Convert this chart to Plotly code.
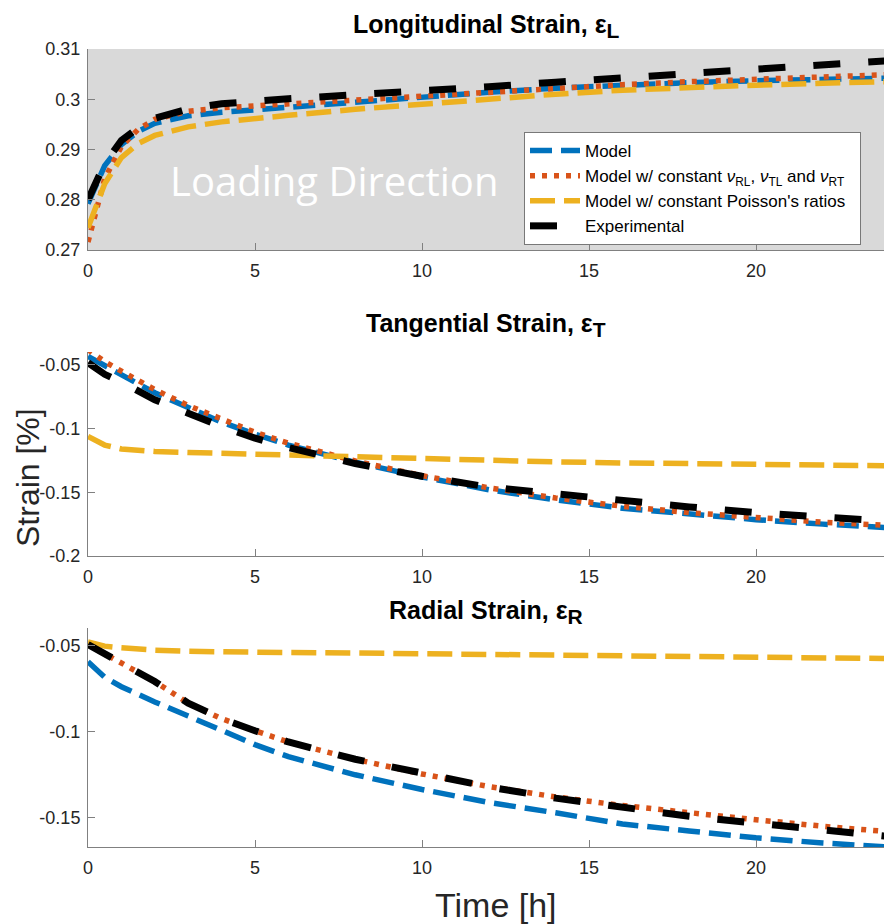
import plotly.graph_objects as go

# ---------------- data ----------------
t = [0, 0.5, 1, 1.5, 2, 3, 4, 5, 6, 8, 10, 12, 14, 16, 18, 20, 22, 24]

# Longitudinal strain
long_model = [0.2792, 0.2868, 0.2910, 0.2936, 0.2952, 0.2967, 0.2974, 0.2979, 0.2985, 0.2995,
              0.3004, 0.3014, 0.3022, 0.3028, 0.3033, 0.3037, 0.3040, 0.3042]
long_const_nu = [0.2716, 0.2842, 0.2906, 0.2940, 0.2960, 0.2976, 0.2983, 0.2987, 0.2991, 0.2999,
                 0.3006, 0.3014, 0.3022, 0.3029, 0.3035, 0.3040, 0.3045, 0.3049]
long_const_poisson = [0.2744, 0.2832, 0.2884, 0.2912, 0.2928, 0.2945, 0.2955, 0.2962, 0.2968, 0.2980,
                      0.2990, 0.3001, 0.3010, 0.3018, 0.3024, 0.3028, 0.3032, 0.3035]
long_exp = [0.2800, 0.2872, 0.2918, 0.2943, 0.2962, 0.2981, 0.2991, 0.2997, 0.3001, 0.3009,
            0.3016, 0.3025, 0.3034, 0.3043, 0.3052, 0.3062, 0.3069, 0.3077]

# Tangential strain
tang_model = [-0.0435, -0.0510, -0.0580, -0.0650, -0.0720, -0.0840, -0.0950, -0.1045, -0.1130, -0.1265,
              -0.1380, -0.1480, -0.1560, -0.1625, -0.1675, -0.1715, -0.1750, -0.1778]
tang_const_nu = [-0.0382, -0.0475, -0.0550, -0.0625, -0.0695, -0.0820, -0.0930, -0.1030, -0.1115, -0.1255,
                 -0.1370, -0.1465, -0.1545, -0.1610, -0.1660, -0.1700, -0.1735, -0.1760]
tang_const_poisson = [-0.1063, -0.1130, -0.1160, -0.1172, -0.1180, -0.1188, -0.1195, -0.1205, -0.1215, -0.1230,
                      -0.1242, -0.1250, -0.1262, -0.1270, -0.1275, -0.1280, -0.1286, -0.1292]
tang_exp = [-0.0484, -0.0575, -0.0635, -0.0705, -0.0775, -0.0880, -0.0985, -0.1075, -0.1150, -0.1275,
            -0.1375, -0.1460, -0.1515, -0.1565, -0.1615, -0.1660, -0.1695, -0.1728]

# Radial strain
rad_model = [-0.0596, -0.0685, -0.0740, -0.0785, -0.0828, -0.0910, -0.0990, -0.1075, -0.1145, -0.1250,
             -0.1335, -0.1410, -0.1470, -0.1535, -0.1575, -0.1615, -0.1645, -0.1668]
rad_const_nu = [-0.0496, -0.0550, -0.0605, -0.0660, -0.0710, -0.0835, -0.0925, -0.0995, -0.1060, -0.1160,
                -0.1245, -0.1318, -0.1378, -0.1428, -0.1472, -0.1510, -0.1548, -0.1580]
rad_const_poisson = [-0.0481, -0.0505, -0.0515, -0.0522, -0.0528, -0.0535, -0.0539, -0.0540, -0.0542, -0.0545,
                     -0.0548, -0.0551, -0.0555, -0.0559, -0.0563, -0.0567, -0.0572, -0.0577]
rad_exp = [-0.0496, -0.0550, -0.0605, -0.0660, -0.0710, -0.0835, -0.0925, -0.0995, -0.1060, -0.1160,
           -0.1245, -0.1320, -0.1385, -0.1440, -0.1490, -0.1530, -0.1570, -0.1608]

series_names = ["Model",
                "Model w/ constant <i>ν</i><sub>RL</sub>, <i>ν</i><sub>TL</sub> and <i>ν</i><sub>RT</sub>",
                "Model w/ constant Poisson's ratios\u00a0\u00a0",
                "Experimental"]
SUB = '<sub><span style="font-size:21px">{}</span></sub>'
panel_titles = ["<b>Longitudinal Strain, ε" + SUB.format("L") + "</b>",
                "<b>Tangential Strain, ε" + SUB.format("T") + "</b>",
                "<b>Radial Strain, ε" + SUB.format("R") + "</b>"]

x_ticks = [0, 5, 10, 15, 20]
x_ticktext = ["0", "5", "10", "15", "20"]
y1_ticks = [0.27, 0.28, 0.29, 0.30, 0.31]
y1_ticktext = ["0.27", "0.28", "0.29", "0.3", "0.31"]
y2_ticks = [-0.2, -0.15, -0.1, -0.05]
y2_ticktext = ["-0.2", "-0.15", "-0.1", "-0.05"]
y3_ticks = [-0.15, -0.1, -0.05]
y3_ticktext = ["-0.15", "-0.1", "-0.05"]

# ---------------- styling ----------------
colors = ["#0072BD", "#D95319", "#EDB120", "#000000"]
dashes = ["22px,9px", "5px,7px", "25px,9px", "27px,28px"]
widths = [5.5, 5.5, 5.5, 7]

W, H = 892, 924
OFF = 8  # the page places the figure 8 px from the top-left corner
def px_x(p): return (p - OFF) / W
def px_y(p): return 1 - (p - OFF) / H

FONT = "Arial, 'Liberation Sans', Helvetica, sans-serif"
AXCOL = "rgb(128,128,128)"
TXTCOL = "#262626"

fig = go.Figure()

panels = [
    ([long_model, long_const_nu, long_const_poisson, long_exp], "x", "y"),
    ([tang_model, tang_const_nu, tang_const_poisson, tang_exp], "x2", "y2"),
    ([rad_model, rad_const_nu, rad_const_poisson, rad_exp], "x3", "y3"),
]
for pi, (sers, xa, ya) in enumerate(panels):
    for si, ys in enumerate(sers):
        fig.add_trace(go.Scatter(
            x=t, y=ys, mode="lines", name=series_names[si],
            line=dict(color=colors[si], dash=dashes[si], width=widths[si]),
            xaxis=xa, yaxis=ya, showlegend=(pi == 0)))

# x axis: 0 at page px 88, 33.4 px per hour; domain runs to the figure's right edge
x_end = (W + OFF - 88) / 33.4
xdom = [px_x(88), 1.0]
common_x = dict(range=[0, x_end], tickvals=x_ticks, ticktext=x_ticktext, ticks="inside",
                ticklen=7, tickcolor=AXCOL, showline=True, linecolor=AXCOL, linewidth=1,
                showgrid=False, zeroline=False, domain=xdom, automargin=False,
                tickfont=dict(family=FONT, size=18, color=TXTCOL), ticklabelstandoff=4)
common_y = dict(ticks="inside", ticklen=7, tickcolor=AXCOL, showline=True, linecolor=AXCOL,
                linewidth=1, showgrid=False, zeroline=False, automargin=False,
                tickfont=dict(family=FONT, size=18, color=TXTCOL), ticklabelstandoff=3)

fig.update_layout(
    width=W, height=H,
    margin=dict(l=0, r=0, t=0, b=0, pad=0, autoexpand=False),
    paper_bgcolor="white", plot_bgcolor="rgba(0,0,0,0)",
    xaxis=dict(common_x, anchor="y"),
    xaxis2=dict(common_x, anchor="y2"),
    xaxis3=dict(common_x, anchor="y3"),
    yaxis=dict(common_y, anchor="x", range=[0.27, 0.31], tickvals=y1_ticks, ticktext=y1_ticktext,
               domain=[px_y(250), px_y(49)]),
    yaxis2=dict(common_y, anchor="x2", range=[-0.2, -0.04], tickvals=y2_ticks, ticktext=y2_ticktext,
                domain=[px_y(556), px_y(352)]),
    yaxis3=dict(common_y, anchor="x3", range=[-0.1668, -0.04], tickvals=y3_ticks, ticktext=y3_ticktext,
                domain=[px_y(847), px_y(628)]),
    showlegend=True,
    legend=dict(x=px_x(524), y=px_y(132), xanchor="left", yanchor="top",
                bgcolor="white", bordercolor="rgb(120,120,120)", borderwidth=1,
                font=dict(family=FONT, size=17, color="#000000"),
                tracegroupgap=0, itemwidth=50),
)

# gray background of the top panel
fig.add_shape(type="rect", xref="x domain", yref="y domain", x0=0, x1=1, y0=0, y1=1,
              fillcolor="#d9d9d9", line=dict(width=0), layer="below")

# panel titles
fig.add_annotation(text=panel_titles[0], x=px_x(486), y=1.0, xref="paper", yref="paper",
                   showarrow=False, xanchor="center", yanchor="top",
                   font=dict(family=FONT, size=25, color="#000000"))
for title, ypix in zip(panel_titles[1:], [325, 612]):
    fig.add_annotation(text=title, x=px_x(486), y=px_y(ypix), xref="paper", yref="paper",
                       showarrow=False, xanchor="center", yanchor="middle",
                       font=dict(family=FONT, size=25, color="#000000"))

fig.add_annotation(text="Loading Direction", x=px_x(334), y=px_y(180), xref="paper", yref="paper",
                   showarrow=False, xanchor="center", yanchor="middle",
                   font=dict(family="'Open Sans', 'Noto Sans', sans-serif", size=40, color="white"))

fig.add_annotation(text="Strain [%]", x=px_x(28), y=px_y(478), xref="paper", yref="paper",
                   showarrow=False, textangle=-90, xanchor="center", yanchor="middle",
                   font=dict(family=FONT, size=32, color=TXTCOL))
fig.add_annotation(text="Time [h]", x=px_x(496), y=px_y(905), xref="paper", yref="paper",
                   showarrow=False, xanchor="center", yanchor="middle",
                   font=dict(family=FONT, size=34, color=TXTCOL))

fig.write_html("out.html")
